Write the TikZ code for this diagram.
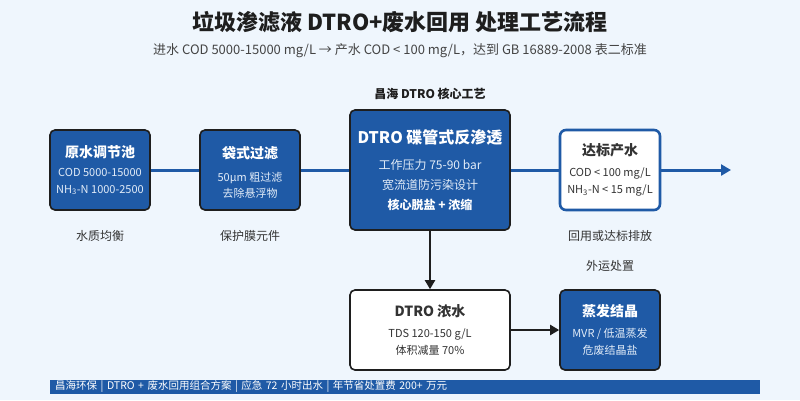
\documentclass[tikz,border=0pt]{standalone}
\usepackage{fontspec}
\setmainfont{Noto Sans CJK SC}
\usetikzlibrary{arrows.meta}
\definecolor{bg}{HTML}{EFF6FD}
\definecolor{mainblue}{HTML}{1F5AA6}
\definecolor{darkline}{HTML}{1E1E1E}
\definecolor{txt}{HTML}{333333}
\definecolor{subtxt}{HTML}{444444}
\definecolor{lighttxt}{HTML}{E2ECF8}
\newcommand{\hd}[1]{{\fontsize{14}{17}\selectfont\bfseries #1}}
\newcommand{\sm}{\fontsize{11}{17}\selectfont}
\begin{document}
\begin{tikzpicture}[x=1pt,y=-1pt,
  bluebox/.style={draw=darkline, line width=1.6pt, fill=mainblue, rounded corners=5pt,
    text=white, align=center, inner sep=0pt, font=\sm},
  whitebox/.style={draw=darkline, line width=1.6pt, fill=white, rounded corners=5pt,
    text=txt, align=center, inner sep=0pt, font=\sm},
  outbox/.style={draw=mainblue, line width=2.6pt, fill=white, rounded corners=6pt,
    text=txt, align=center, inner sep=0pt, font=\sm},
  mainline/.style={draw=mainblue, line width=3pt},
  blkarrow/.style={draw=darkline, line width=2pt, -{Triangle[length=9pt,width=10pt]}},
  note/.style={text=txt, font=\fontsize{12}{14}\selectfont, inner sep=0pt}
]
\fill[bg] (0,0) rectangle (800,400);
\useasboundingbox (0,0) rectangle (800,400);

% title
\node[font=\fontsize{22}{26}\selectfont\bfseries, text=darkline, inner sep=0pt] (title) at (400,22) {垃圾渗滤液 DTRO+废水回用 处理工艺流程};
\node[font=\fontsize{13}{16}\selectfont, text=subtxt, inner sep=0pt] (subtitle) at (400,51) {进水 COD 5000-15000 mg/L → 产水 COD < 100 mg/L，达到 GB 16889-2008 表二标准};

% main row
\node[bluebox, minimum width=100pt, minimum height=80pt] (b1) at (100,170)
  {\hd{原水调节池}\\[2pt]{\color{lighttxt}COD 5000-15000}\\{\color{lighttxt}NH\textsubscript{3}-N 1000-2500}};
\node[bluebox, minimum width=100pt, minimum height=80pt, font=\fontsize{11}{16}\selectfont] (b2) at (250,170)
  {\rule{0pt}{4pt}\\[-4pt]\hd{袋式过滤}\\[7pt]{\color{lighttxt}50μm 粗过滤}\\{\color{lighttxt}去除悬浮物}};
\node[bluebox, minimum width=160pt, minimum height=120pt, font=\fontsize{12}{20}\selectfont] (b3) at (430,170)
  {{\fontsize{16}{20}\selectfont\bfseries DTRO 碟管式反渗透}\\[6pt]{\color{lighttxt}工作压力 75-90 bar}\\{\color{lighttxt}宽流道防污染设计}\\{\bfseries 核心脱盐 + 浓缩}};
\node[outbox, minimum width=100pt, minimum height=80pt] (b4) at (610,170)
  {\hd{达标产水}\\[4pt]COD < 100 mg/L\\NH\textsubscript{3}-N < 15 mg/L};

\node[font=\fontsize{12}{14}\selectfont\bfseries, text=darkline, inner sep=0pt] (core) at (430,94) {昌海 DTRO 核心工艺};

% lower row
\node[whitebox, minimum width=160pt, minimum height=80pt] (b5) at (430,330)
  {\hd{DTRO 浓水}\\[4pt]TDS 120-150 g/L\\体积减量 70\%};
\node[bluebox, minimum width=100pt, minimum height=80pt] (b6) at (610,330)
  {\hd{蒸发结晶}\\[4pt]{\color{lighttxt}MVR / 低温蒸发}\\{\color{lighttxt}危废结晶盐}};

% notes
\node[note] (n1) at (100,236) {水质均衡};
\node[note] (n2) at (250,236) {保护膜元件};
\node[note] (n4) at (610,236) {回用或达标排放};
\node[note] (n6) at (610,266) {外运处置};

% connectors
\coordinate (out) at (731,170);
\draw[mainline] (b1) -- (b2);
\draw[mainline] (b2) -- (b3);
\draw[mainline] (b3) -- (b4);
\draw[mainline, -{Triangle[length=10pt,width=11pt]}] (b4) -- (out);
\draw[blkarrow] (b3) -- (b5);
\draw[blkarrow] (b5) -- (b6);

% footer
\node[fill=mainblue, anchor=west, minimum height=14pt, text width=700pt, inner xsep=5pt, inner ysep=0pt,
  align=left, text=white, font=\fontsize{10.5}{12}\selectfont] (foot) at (50,387)
  {昌海环保 | DTRO + 废水回用组合方案 | 应急 72 小时出水 | 年节省处置费 200+ 万元};
\end{tikzpicture}
\end{document}
